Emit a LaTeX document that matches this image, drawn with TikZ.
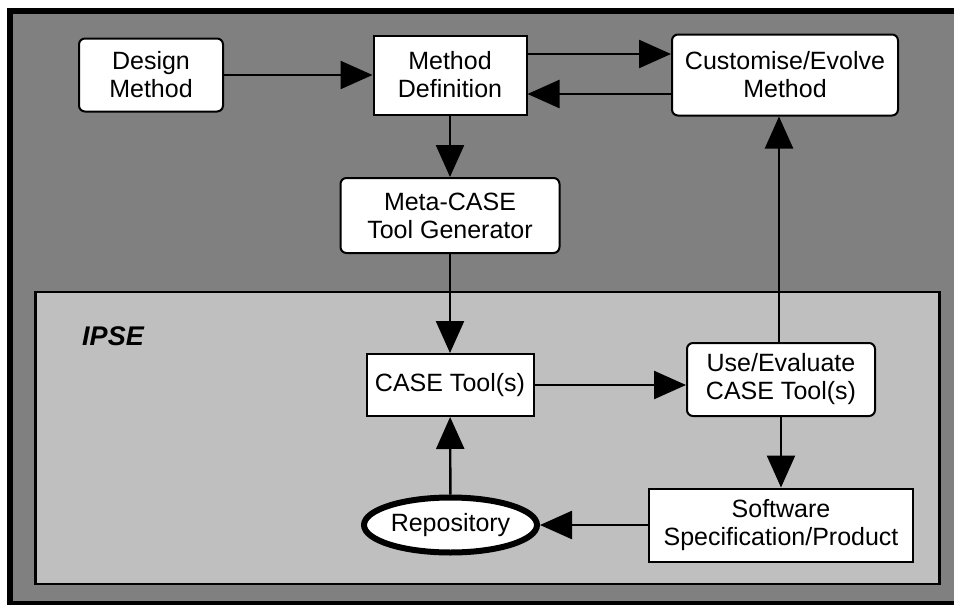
\documentclass[tikz,border=0pt]{standalone}
\usepackage{fontspec}
\setmainfont{Liberation Sans}
\usetikzlibrary{arrows.meta,shapes.geometric}
\definecolor{framegray}{gray}{0.5}
\definecolor{ipsegray}{gray}{0.75}

\begin{document}
\begin{tikzpicture}[x=0.5pt,y=-0.5pt,>={Triangle[length=16pt,width=14pt]},
  box/.style={draw,fill=white,line width=1pt,align=center,inner sep=0pt,
    font=\fontsize{12.5}{14}\selectfont},
  rbox/.style={box,rounded corners=3pt},
  flow/.style={line width=1.2pt}]
\useasboundingbox (0,0) rectangle (954,605);
\clip (0,0) rectangle (954,605);

% frames
\draw[fill=framegray,line width=3pt] (10,10.5) rectangle (962,603.5);
\draw[fill=ipsegray,line width=1.2pt] (35.5,292) rectangle (939.5,584);
\node[font=\fontsize{13.5}{16}\selectfont\bfseries\itshape] (ipse) at (113,336) {IPSE};

% boxes
\node[rbox,minimum width=72pt,minimum height=36.5pt] (design) at (151,75) {Design\\Method};
\node[box,minimum width=76.5pt,minimum height=39.5pt] (method) at (450,75) {Method\\Definition};
\node[rbox,minimum width=113pt,minimum height=40.5pt] (custom) at (785,75) {Customise/Evolve\\Method};
\node[rbox,minimum width=109.5pt,minimum height=37.5pt] (meta) at (450,215.5) {Meta-CASE\\Tool Generator};
\node[box,minimum width=83.5pt,minimum height=31pt] (casetool) at (450,385) {CASE Tool(s)};
\node[rbox,minimum width=94pt,minimum height=36.5pt] (useeval) at (781,379.5) {Use/Evaluate\\CASE Tool(s)};
\node[box,minimum width=132pt,minimum height=36.5pt] (software) at (781,525) {Software\\Specification/Product};
\node[box,ellipse,line width=3pt,minimum width=86.5pt,minimum height=27.5pt] (repo) at (450.5,525) {Repository};

\coordinate (lift) at ([xshift=-1pt]useeval.north);

\path[->,flow]
(design) edge (method)
([yshift=10.5pt]method.east) edge ([yshift=10.5pt]custom.west)
([yshift=-9.5pt]custom.west) edge ([yshift=-9.5pt]method.east)
(method) edge (meta)
(meta) edge (casetool)
(casetool) edge (casetool.east -| useeval.west)
(lift) edge (lift |- custom.south)
(useeval) edge (software)
(software) edge (repo)
(repo) edge (casetool)
;
\end{tikzpicture}
\end{document}
